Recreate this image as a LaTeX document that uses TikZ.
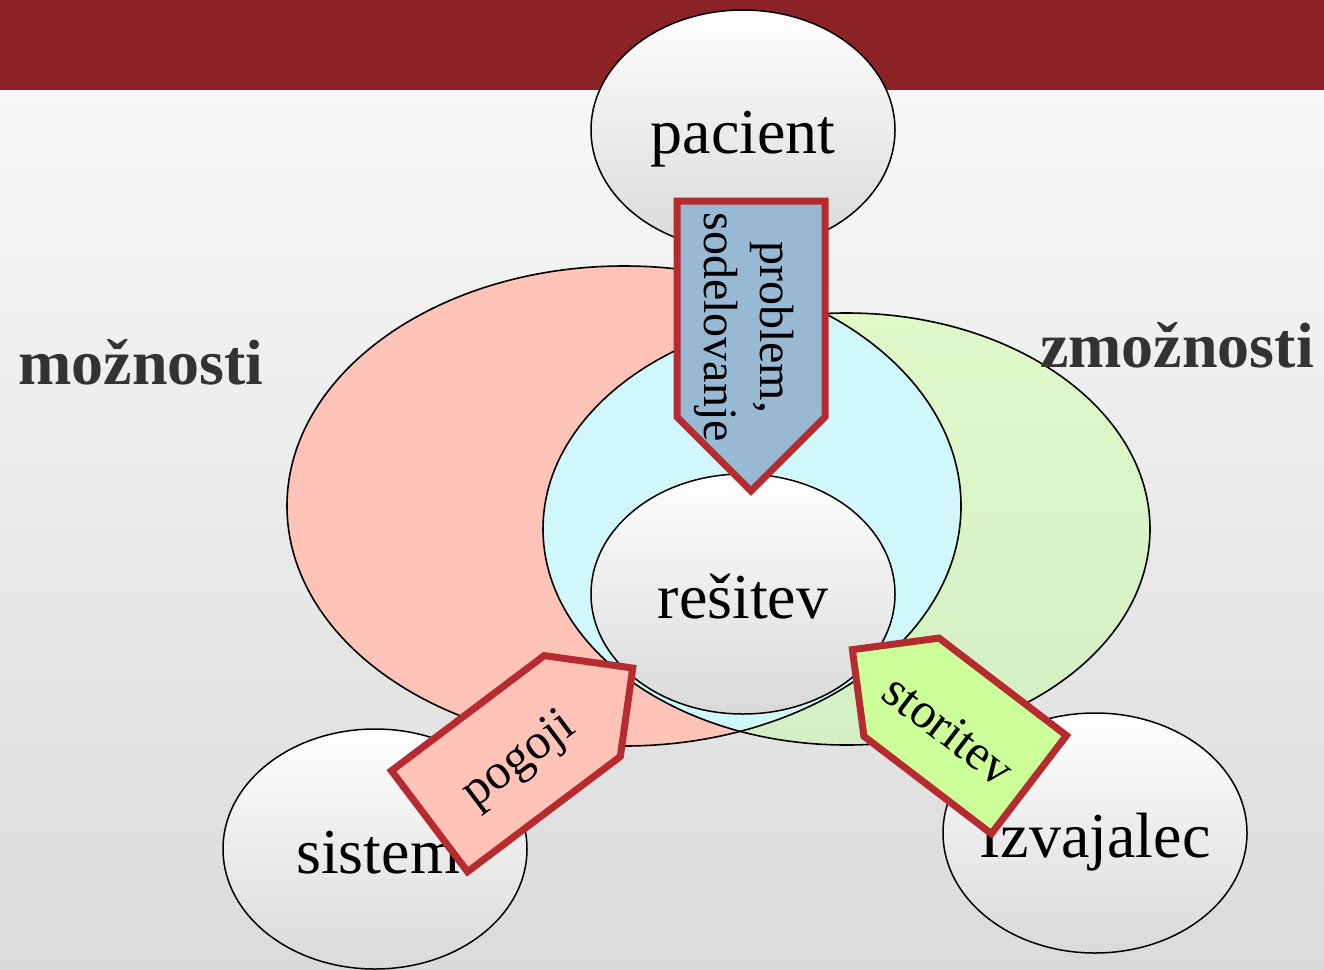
\documentclass[tikz,border=0pt]{standalone}
\usepackage{fontspec}
\setmainfont{Liberation Serif}
\usetikzlibrary{shapes.geometric}
\definecolor{barred}{RGB}{139,35,38}
\definecolor{pinkfill}{RGB}{255,196,183}
\definecolor{greentop}{RGB}{223,249,201}
\definecolor{greenbot}{RGB}{212,239,196}
\definecolor{cyanfill}{RGB}{208,248,252}
\definecolor{bluefill}{RGB}{151,185,211}
\definecolor{limefill}{RGB}{204,255,153}
\definecolor{arrowline}{RGB}{181,43,48}
\definecolor{bgtop}{RGB}{248,248,248}
\definecolor{bgbot}{RGB}{219,219,219}
\definecolor{ellbot}{RGB}{217,217,217}
\definecolor{labelgray}{RGB}{51,51,51}
\begin{document}
\begin{tikzpicture}[x=1pt,y=-1pt,
  blob/.style={ellipse, draw=black, line width=1.5pt, top color=white, bottom color=ellbot,
    minimum width=304pt, minimum height=240pt, inner sep=0pt},
  big/.style={font=\fontsize{64}{70}\selectfont, anchor=base, inner sep=0pt},
  side/.style={font=\fontsize{64}{70}\selectfont\bfseries, text=labelgray, anchor=base, inner sep=0pt},
  arrowbox/.style={draw=arrowline, line width=7pt, line join=miter},
  small/.style={font=\fontsize{50}{55}\selectfont, inner sep=0pt},
  region/.style={draw=black, line width=1.6pt}
]
\useasboundingbox (0,0) rectangle (1324,969);
\shade[top color=bgtop, bottom color=bgbot] (0,90) rectangle (1324,969);
\fill[barred] (0,0) rectangle (1324,90);

% regions
\fill[pinkfill] (624,506) ellipse [x radius=337pt, y radius=240pt];
\shade[top color=greentop, bottom color=greenbot] (846.5,529) ellipse [x radius=303.5pt, y radius=216pt];
\begin{scope}
  \clip (624,506) ellipse [x radius=337pt, y radius=240pt];
  \fill[cyanfill] (846.5,529) ellipse [x radius=303.5pt, y radius=216pt];
\end{scope}
\draw[region] (624,506) ellipse [x radius=337pt, y radius=240pt];
\draw[region] (846.5,529) ellipse [x radius=303.5pt, y radius=216pt];

\node[side] (moznosti) at (141,384) {možnosti};
\node[side] (zmoznosti) at (1177,367) {zmožnosti};

% actors
\node[blob] (pacient) at (743,130) {};
\node[big] (pacientlbl) at (743,153) {pacient};
\node[blob] (resitev) at (743,594) {};
\node[big] (resitevlbl) at (743,618) {rešitev};
\node[blob] (sistem) at (375,849) {};
\node[big] (sistemlbl) at (378,873) {sistem};
\node[blob] (izvajalec) at (1095,833) {};
\node[big] (izvajaleclbl) at (1095,857) {Izvajalec};

% arrows
\draw[arrowbox, fill=bluefill] (677,201) -- (825,201) -- (825,417) -- (751,491) -- (677,417) -- cycle;
\node[small, font=\fontsize{48}{56}\selectfont, rotate=-90, align=center] (problem) at (744,327) {problem,\\sodelovanje};

\begin{scope}[shift={(429.5,821.2)}, rotate=37]
  \draw[arrowbox, fill=pinkfill] (0,-63.2) -- (191.3,-63.2) -- (254.5,0) -- (191.3,63.2) -- (0,63.2) -- cycle;
\end{scope}
\node[small, rotate=37] (pogoji) at (520,761) {pogoji};

\begin{scope}[shift={(1028.9,784.6)}, rotate=142.6]
  \draw[arrowbox, fill=limefill] (0,-61.8) -- (160.4,-61.8) -- (222.2,0) -- (160.4,61.8) -- (0,61.8) -- cycle;
\end{scope}
\node[small, rotate=-37.4] (storitev) at (949,730) {storitev};
\end{tikzpicture}
\end{document}
